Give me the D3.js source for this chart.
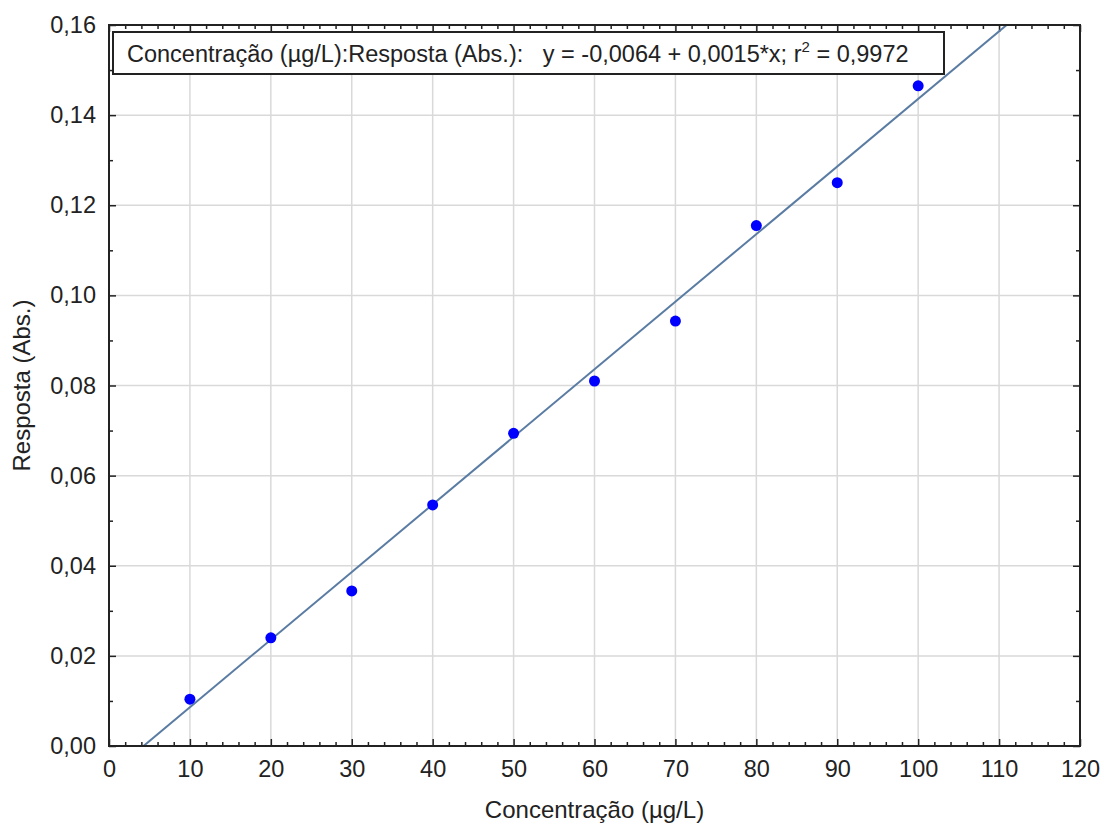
<!DOCTYPE html>
<html lang="pt">
  <head>
    <meta charset="utf-8" />
    <title>Curva de calibração</title>
    <script src="https://d3js.org/d3.v7.min.js"></script>
    <style type="text/css">
      body {
        margin: 0;
        background: white;
      }
      text {
        font-family: "Liberation Sans", Arial, sans-serif;
        fill: #222;
      }
      .title {
        font-size: 24px;
      }
      .legend {
        font-size: 23.5px;
      }
    </style>
  </head>
  <body>
    <script type="text/javascript">
      const w = 1104;
      const h = 824;

      // Data
      const concentracao = [10, 20, 30, 40, 50, 60, 70, 80, 90, 100];
      const resposta = [0.0104, 0.0240, 0.0344, 0.0535, 0.0694, 0.0810, 0.0943, 0.1155, 0.1250, 0.1465];

      // Fit shown in the legend
      const intercept = -0.0064;
      const slope = 0.0015;
      const legendText = "Concentração (µg/L):Resposta (Abs.):   y = -0,0064 + 0,0015*x; r";
      const legendR2 = " = 0,9972";

      const xTicks = [0, 10, 20, 30, 40, 50, 60, 70, 80, 90, 100, 110, 120];
      const yTicks = [0, 0.02, 0.04, 0.06, 0.08, 0.1, 0.12, 0.14, 0.16];

      const margin = { top: 25, right: 24, bottom: 78, left: 109 };

      const pt = d3.formatLocale({ decimal: ",", thousands: ".", grouping: [3], currency: ["", ""] });
      const fmtY = pt.format(".2f");

      const x = d3.scaleLinear().domain([0, 120]).range([margin.left, w - margin.right]);
      const y = d3.scaleLinear().domain([0, 0.16]).range([h - margin.bottom, margin.top]);

      const svg = d3.select("body").append("svg").attr("width", w).attr("height", h);

      // Grid
      svg.append("g")
        .selectAll("line")
        .data(xTicks.slice(1, -1))
        .join("line")
        .attr("x1", d => x(d)).attr("x2", d => x(d))
        .attr("y1", y(0)).attr("y2", y(0.16))
        .attr("stroke", "#d9d9d9").attr("stroke-width", 1.5);

      svg.append("g")
        .selectAll("line")
        .data(yTicks.slice(1, -1))
        .join("line")
        .attr("x1", x(0)).attr("x2", x(120))
        .attr("y1", d => y(d)).attr("y2", d => y(d))
        .attr("stroke", "#d9d9d9").attr("stroke-width", 1.5);

      // Axes with inward ticks
      const xMinor = d3.range(0, 121, 2).filter(d => d % 10 !== 0);
      const yMinor = d3.range(1, 16, 2).map(d => d / 100);

      function styleAxis(g) {
        g.select(".domain").remove();
        g.selectAll(".tick line").attr("stroke", "#222").attr("stroke-width", 1.5);
      }

      svg.append("g")
        .attr("transform", `translate(0,${y(0)})`)
        .call(d3.axisBottom(x).tickValues(xTicks).tickFormat(d3.format("d")).tickSizeInner(-7).tickPadding(14))
        .call(styleAxis);
      svg.append("g")
        .attr("transform", `translate(0,${y(0)})`)
        .call(d3.axisBottom(x).tickValues(xMinor).tickFormat("").tickSizeInner(-4))
        .call(styleAxis);
      svg.append("g")
        .attr("transform", `translate(0,${y(0.16)})`)
        .call(d3.axisTop(x).tickValues(xTicks).tickFormat("").tickSizeInner(-7))
        .call(styleAxis);
      svg.append("g")
        .attr("transform", `translate(0,${y(0.16)})`)
        .call(d3.axisTop(x).tickValues(xMinor).tickFormat("").tickSizeInner(-4))
        .call(styleAxis);

      svg.append("g")
        .attr("transform", `translate(${x(0)},0)`)
        .call(d3.axisLeft(y).tickValues(yTicks).tickFormat(fmtY).tickSizeInner(-7).tickPadding(13))
        .call(styleAxis);
      svg.append("g")
        .attr("transform", `translate(${x(0)},0)`)
        .call(d3.axisLeft(y).tickValues(yMinor).tickFormat("").tickSizeInner(-4))
        .call(styleAxis);
      svg.append("g")
        .attr("transform", `translate(${x(120)},0)`)
        .call(d3.axisRight(y).tickValues(yTicks).tickFormat("").tickSizeInner(-7))
        .call(styleAxis);
      svg.append("g")
        .attr("transform", `translate(${x(120)},0)`)
        .call(d3.axisRight(y).tickValues(yMinor).tickFormat("").tickSizeInner(-4))
        .call(styleAxis);

      svg.selectAll(".tick text")
        .attr("fill", "#222")
        .style("font-family", "'Liberation Sans', Arial, sans-serif")
        .style("font-size", "23.5px");

      // Regression line, clipped to the plot area
      svg.append("clipPath").attr("id", "plot")
        .append("rect")
        .attr("x", x(0)).attr("y", y(0.16))
        .attr("width", x(120) - x(0)).attr("height", y(0) - y(0.16));

      const xFit = [0, 120];
      svg.append("path")
        .datum(xFit)
        .attr("clip-path", "url(#plot)")
        .attr("fill", "none")
        .attr("stroke", "#5a7ca3")
        .attr("stroke-width", 2)
        .attr("d", d3.line().x(d => x(d)).y(d => y(intercept + slope * d)));

      // Points
      svg.append("g")
        .selectAll("circle")
        .data(concentracao)
        .join("circle")
        .attr("cx", d => x(d))
        .attr("cy", (d, i) => y(resposta[i]))
        .attr("r", 5.5)
        .attr("fill", "#0000ff");

      // Frame
      svg.append("rect")
        .attr("x", x(0)).attr("y", y(0.16))
        .attr("width", x(120) - x(0)).attr("height", y(0) - y(0.16))
        .attr("fill", "none").attr("stroke", "#222").attr("stroke-width", 2);

      // Legend box
      const legend = svg.append("g");
      legend.append("rect")
        .attr("x", 113).attr("y", 32)
        .attr("width", 831).attr("height", 42)
        .attr("fill", "white").attr("stroke", "#222").attr("stroke-width", 2);
      const lt = legend.append("text")
        .attr("class", "legend")
        .attr("x", 127).attr("y", 62)
        .attr("xml:space", "preserve")
        .style("white-space", "pre");
      lt.append("tspan").text(legendText);
      lt.append("tspan").attr("dy", -10).style("font-size", "15px").text("2");
      lt.append("tspan").attr("dy", 10).text(legendR2);

      // Axis titles
      svg.append("text")
        .attr("class", "title")
        .attr("x", (x(0) + x(120)) / 2)
        .attr("y", 818)
        .attr("text-anchor", "middle")
        .text("Concentração (µg/L)");

      svg.append("text")
        .attr("class", "title")
        .attr("transform", `translate(30,${(y(0) + y(0.16)) / 2}) rotate(-90)`)
        .attr("text-anchor", "middle")
        .text("Resposta (Abs.)");
    </script>
  </body>
</html>
